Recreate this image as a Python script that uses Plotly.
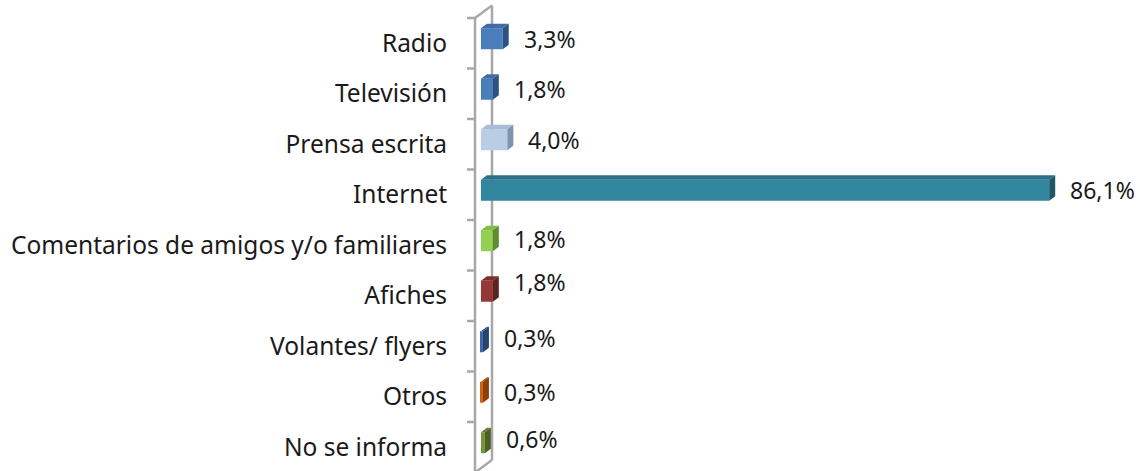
import plotly.graph_objects as go

# Survey answers: how respondents heard about it
categories = [
    "Radio",
    "Televisión",
    "Prensa escrita",
    "Internet",
    "Comentarios de amigos y/o familiares",
    "Afiches",
    "Volantes/ flyers",
    "Otros",
    "No se informa",
]
percentages = [3.3, 1.8, 4.0, 86.1, 1.8, 1.8, 0.3, 0.3, 0.6]

# Shading for each bar: front face, top face, right side face
front_colors = ["#4a7ebb", "#4a7ebb", "#b9cde5", "#31859c", "#92d050",
                "#953735", "#3a66a6", "#d0600c", "#77933c"]
top_colors = ["#3f6ca6", "#3f6ca6", "#a9bdd7", "#2a7186", "#82bd46",
              "#7f2e2c", "#32588f", "#b5530a", "#667f33"]
side_colors = ["#2e5183", "#2e5183", "#8194ad", "#1f5666", "#5e8c30",
               "#5c2120", "#26436d", "#8c4008", "#4d6126"]

# Vertical nudges (px) for the value labels
label_yshift = [0, 0, 0, 0, 2, 9, 4, 0, 4]

# Canvas / plot-area geometry
W, H = 1140, 471
M_L, M_R, M_T, M_B = 475, 5, 0, 0
X_RANGE = [-0.9, 99.1]
Y_RANGE = [8.47, -0.856]          # reversed: first category on top
px_x = (W - M_L - M_R) / (X_RANGE[1] - X_RANGE[0])
px_y = (H - M_T - M_B) / (Y_RANGE[0] - Y_RANGE[1])

BAR_H = 21 / px_y                 # thickness of the front face
BAR_LIFT = 4.5 / px_y             # bars sit a little back from the front plane
DEPTH_DX = 6 / px_x               # 3-D extrusion of the bars
DEPTH_DY = 4.5 / px_y
WALL_DX = 17                      # wall depth, px
WALL_DY = 12.5 / px_y
WALL_COLOR = "#a8a8a8"
FONT = "Noto Sans"
TEXT_COLOR = "#1a1a1a"

positions = list(range(len(categories)))
centers = [p - BAR_LIFT for p in positions]

fig = go.Figure()

# Front faces
fig.add_trace(go.Bar(
    x=percentages, y=centers, orientation="h", width=BAR_H,
    marker=dict(color=front_colors, line=dict(width=0)),
    hoverinfo="skip", showlegend=False,
))

# Top and side faces of each bar
for v, c, tc, sc in zip(percentages, centers, top_colors, side_colors):
    yt, yb = c - BAR_H / 2, c + BAR_H / 2
    fig.add_trace(go.Scatter(
        x=[0, v, v + DEPTH_DX, DEPTH_DX, 0],
        y=[yt, yt, yt - DEPTH_DY, yt - DEPTH_DY, yt],
        fill="toself", fillcolor=tc, mode="lines", line=dict(width=0),
        hoverinfo="skip", showlegend=False,
    ))
    fig.add_trace(go.Scatter(
        x=[v, v + DEPTH_DX, v + DEPTH_DX, v, v],
        y=[yt, yt - DEPTH_DY, yb - DEPTH_DY, yb, yt],
        fill="toself", fillcolor=sc, mode="lines", line=dict(width=0),
        hoverinfo="skip", showlegend=False,
    ))

# Value labels
for v, c, dy in zip(percentages, centers, label_yshift):
    fig.add_annotation(
        x=v, y=c, text=f"{v:.1f}".replace(".", ",") + "%",
        xanchor="left", yanchor="middle", xshift=19, yshift=dy, showarrow=False,
        font=dict(family=FONT, size=23, color=TEXT_COLOR),
    )

# 3-D wall on the category axis
top, bottom = -0.5, len(categories) - 0.5
wall = dict(xref="paper", yref="y", xsizemode="pixel", xanchor=0,
            layer="below", line=dict(color=WALL_COLOR, width=2.5))
shapes = [
    dict(type="line", x0=0, x1=0, y0=top, y1=bottom, **wall),
    dict(type="line", x0=WALL_DX, x1=WALL_DX, y0=top - WALL_DY,
         y1=bottom - WALL_DY, **wall),
    dict(type="line", x0=0, x1=WALL_DX, y0=top, y1=top - WALL_DY, **wall),
    dict(type="line", x0=0, x1=WALL_DX, y0=bottom, y1=bottom - WALL_DY, **wall),
]
for k in range(len(categories) + 1):
    shapes.append(dict(type="line", x0=-8, x1=0, y0=top + k, y1=top + k, **wall))

fig.update_layout(
    width=W, height=H,
    margin=dict(l=M_L, r=M_R, t=M_T, b=M_B, pad=0),
    paper_bgcolor="white", plot_bgcolor="white",
    shapes=shapes,
    xaxis=dict(range=X_RANGE, visible=False, fixedrange=True),
    yaxis=dict(
        range=Y_RANGE, tickmode="array", tickvals=positions, ticktext=categories,
        ticks="outside", ticklen=22, tickcolor="rgba(0,0,0,0)",
        showline=False, showgrid=False, zeroline=False, fixedrange=True,
        tickfont=dict(family=FONT, size=24.5, color=TEXT_COLOR),
    ),
    font=dict(family=FONT),
)

fig.write_html("out.html")
